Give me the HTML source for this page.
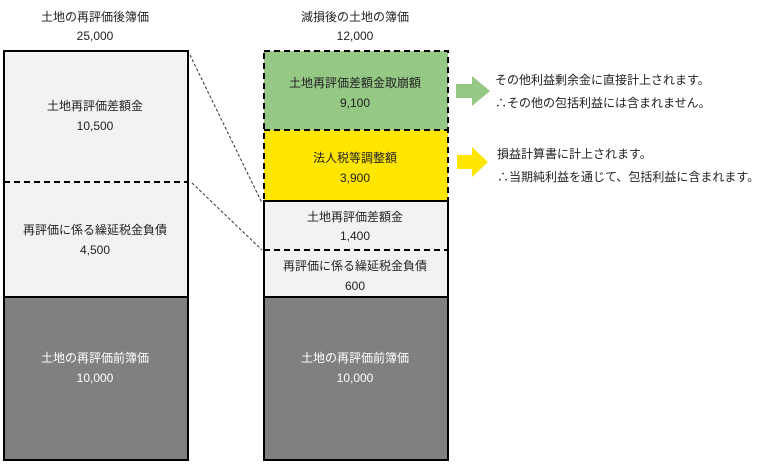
<!DOCTYPE html>
<html><head><meta charset="utf-8"><style>
body{margin:0;background:#fff}
svg{display:block}
text{font-family:"Liberation Sans","Noto Sans CJK JP",sans-serif;font-size:12px;fill:#222}
</style></head><body>
<svg width="759" height="464" viewBox="0 0 759 464">
<text x="95" y="21" text-anchor="middle">土地の再評価後簿価</text>
<text x="95" y="40" text-anchor="middle">25,000</text>
<text x="355" y="21" text-anchor="middle">減損後の土地の簿価</text>
<text x="355" y="40" text-anchor="middle">12,000</text>
<!-- left -->
<rect x="4" y="51" width="184" height="246" fill="#f2f2f2"/>
<rect x="4" y="297" width="184" height="163" fill="#808080"/>
<rect x="4" y="51" width="184" height="409" fill="none" stroke="#000" stroke-width="2"/>
<line x1="4" y1="182" x2="188" y2="182" stroke="#000" stroke-width="2" stroke-dasharray="6,4"/>
<line x1="4" y1="297" x2="188" y2="297" stroke="#000" stroke-width="2"/>
<text x="95" y="110" text-anchor="middle">土地再評価差額金</text>
<text x="95" y="130" text-anchor="middle">10,500</text>
<text x="95" y="234" text-anchor="middle">再評価に係る繰延税金負債</text>
<text x="95" y="254" text-anchor="middle">4,500</text>
<text x="95" y="362" text-anchor="middle" fill="#fff" style="fill:#fff">土地の再評価前簿価</text>
<text x="95" y="382" text-anchor="middle" style="fill:#fff">10,000</text>
<!-- right -->
<rect x="264" y="51" width="184" height="79" fill="#93c47d" style="fill:#95c785"/>
<rect x="264" y="130" width="184" height="71" fill="#ffe600"/>
<rect x="264" y="201" width="184" height="96" fill="#f2f2f2"/>
<rect x="264" y="297" width="184" height="163" fill="#808080"/>
<rect x="264" y="51" width="184" height="150" fill="none" stroke="#000" stroke-width="2" stroke-dasharray="6,4"/>
<line x1="264" y1="130" x2="448" y2="130" stroke="#000" stroke-width="2" stroke-dasharray="6,4"/>
<line x1="264" y1="250" x2="448" y2="250" stroke="#000" stroke-width="2" stroke-dasharray="6,4"/>
<path d="M264 201 H448 V460 H264 Z" fill="none" stroke="#000" stroke-width="2"/>
<line x1="264" y1="297" x2="448" y2="297" stroke="#000" stroke-width="2"/>
<text x="355" y="87" text-anchor="middle">土地再評価差額金取崩額</text>
<text x="355" y="107" text-anchor="middle">9,100</text>
<text x="355" y="162" text-anchor="middle">法人税等調整額</text>
<text x="355" y="182" text-anchor="middle">3,900</text>
<text x="355" y="221" text-anchor="middle">土地再評価差額金</text>
<text x="355" y="240" text-anchor="middle">1,400</text>
<text x="355" y="270" text-anchor="middle">再評価に係る繰延税金負債</text>
<text x="355" y="290" text-anchor="middle">600</text>
<text x="355" y="362" text-anchor="middle" style="fill:#fff">土地の再評価前簿価</text>
<text x="355" y="382" text-anchor="middle" style="fill:#fff">10,000</text>
<!-- dotted connectors -->
<line x1="190" y1="55" x2="262" y2="203" stroke="#333" stroke-width="1" stroke-dasharray="3,2"/>
<line x1="192" y1="183" x2="262" y2="250" stroke="#333" stroke-width="1" stroke-dasharray="3,2"/>
<!-- arrows -->
<path d="M456 84 H472 V76 L490 91 L472 106 V98 H456 Z" fill="#95c785"/>
<path d="M457 155 H472 V147 L488 162 L472 177 V169 H457 Z" fill="#ffe600"/>
<text x="495" y="84">その他利益剰余金に直接計上されます。</text>
<text x="495" y="107">∴その他の包括利益には含まれません。</text>
<text x="497" y="158">損益計算書に計上されます。</text>
<text x="497" y="181">∴当期純利益を通じて、包括利益に含まれます。</text>
</svg>
</body></html>
